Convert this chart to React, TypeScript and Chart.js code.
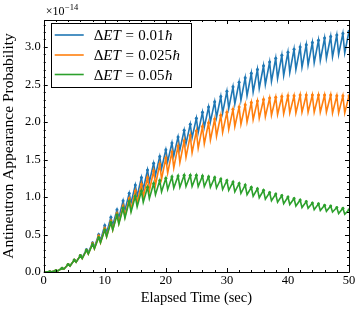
import React, { useEffect, useRef } from "react";
import { Chart, registerables } from "chart.js";
Chart.register(...registerables);

// Elapsed time (sec) of each oscillation peak and of each following trough
const peakTimes = [0, 1, 2, 3, 4, 5, 6, 7, 8, 9, 10, 11, 12, 13, 14, 15, 16, 17, 18, 19, 20, 21, 22, 23, 24, 25, 26, 27, 28, 29, 30, 31, 32, 33, 34, 35, 36, 37, 38, 39, 40, 41, 42, 43, 44, 45, 46, 47, 48, 49, 50];
const troughTimes = [0.3, 1.3, 2.3, 3.3, 4.3, 5.3, 6.3, 7.3, 8.3, 9.3, 10.3, 11.3, 12.3, 13.3, 14.3, 15.3, 16.3, 17.3, 18.3, 19.3, 20.3, 21.3, 22.3, 23.3, 24.3, 25.3, 26.3, 27.3, 28.3, 29.3, 30.3, 31.3, 32.3, 33.3, 34.3, 35.3, 36.3, 37.3, 38.3, 39.3, 40.3, 41.3, 42.3, 43.3, 44.3, 45.3, 46.3, 47.3, 48.3, 49.3];

// Probability values in units of 1e-14
const bluePeaks = [0, 0.005, 0.02, 0.05, 0.1, 0.16, 0.22, 0.3, 0.39, 0.5, 0.62, 0.73, 0.83, 0.95, 1.05, 1.16, 1.26, 1.36, 1.45, 1.54, 1.63, 1.72, 1.8, 1.89, 1.97, 2.05, 2.13, 2.2, 2.27, 2.34, 2.41, 2.47, 2.53, 2.59, 2.65, 2.7, 2.75, 2.8, 2.85, 2.89, 2.93, 2.97, 3.0, 3.03, 3.06, 3.09, 3.12, 3.14, 3.16, 3.18, 3.21];
const blueTroughs = [0, 0.003, 0.015, 0.04, 0.08, 0.13, 0.19, 0.26, 0.33, 0.42, 0.52, 0.62, 0.72, 0.82, 0.92, 1.01, 1.1, 1.2, 1.29, 1.38, 1.47, 1.55, 1.63, 1.71, 1.79, 1.86, 1.93, 2.0, 2.06, 2.12, 2.18, 2.24, 2.29, 2.35, 2.4, 2.45, 2.5, 2.54, 2.58, 2.62, 2.66, 2.7, 2.73, 2.76, 2.79, 2.82, 2.85, 2.87, 2.9, 2.92];
const orangePeaks = [0, 0.005, 0.02, 0.05, 0.1, 0.16, 0.22, 0.29, 0.38, 0.48, 0.58, 0.68, 0.78, 0.88, 0.98, 1.08, 1.17, 1.26, 1.35, 1.44, 1.52, 1.6, 1.68, 1.75, 1.82, 1.88, 1.94, 1.99, 2.04, 2.09, 2.13, 2.17, 2.2, 2.23, 2.26, 2.28, 2.3, 2.32, 2.33, 2.34, 2.35, 2.35, 2.36, 2.36, 2.36, 2.36, 2.36, 2.36, 2.35, 2.35, 2.35];
const orangeTroughs = [0, 0.003, 0.015, 0.04, 0.08, 0.13, 0.18, 0.24, 0.31, 0.39, 0.47, 0.56, 0.65, 0.74, 0.83, 0.92, 1.0, 1.08, 1.16, 1.24, 1.32, 1.39, 1.46, 1.53, 1.59, 1.65, 1.71, 1.76, 1.81, 1.86, 1.9, 1.94, 1.97, 2.0, 2.03, 2.05, 2.07, 2.09, 2.1, 2.11, 2.12, 2.12, 2.13, 2.13, 2.13, 2.13, 2.13, 2.12, 2.12, 2.12];
const greenPeaks = [0, 0.005, 0.02, 0.05, 0.1, 0.16, 0.22, 0.29, 0.37, 0.46, 0.56, 0.66, 0.76, 0.85, 0.94, 1.01, 1.08, 1.13, 1.18, 1.22, 1.25, 1.27, 1.28, 1.29, 1.29, 1.29, 1.28, 1.27, 1.26, 1.24, 1.22, 1.2, 1.18, 1.16, 1.13, 1.11, 1.09, 1.06, 1.04, 1.02, 1.0, 0.98, 0.96, 0.94, 0.92, 0.91, 0.89, 0.88, 0.86, 0.85, 0.83];
const greenTroughs = [0, 0.003, 0.015, 0.04, 0.08, 0.13, 0.18, 0.24, 0.31, 0.39, 0.47, 0.56, 0.64, 0.72, 0.8, 0.87, 0.93, 0.98, 1.03, 1.07, 1.1, 1.12, 1.13, 1.14, 1.14, 1.14, 1.14, 1.13, 1.12, 1.1, 1.09, 1.07, 1.05, 1.03, 1.01, 0.99, 0.97, 0.95, 0.93, 0.91, 0.9, 0.88, 0.86, 0.85, 0.83, 0.82, 0.81, 0.8, 0.78, 0.77];

const seriesLabels = ["0.01", "0.025", "0.05"];
const seriesColors = ["#1f77b4", "#ff7f0e", "#2ca02c"];
const xTitle = "Elapsed Time (sec)";
const yTitle = "Antineutron Appearance Probability";
const yTicks = [0, 0.5, 1, 1.5, 2, 2.5, 3];
const xTicks = [0, 10, 20, 30, 40, 50];

const SERIF = "'Liberation Serif', 'DejaVu Serif', serif";

function buildSeries(peaks: number[], troughs: number[]) {
  const pts: { x: number; y: number; peak: boolean }[] = [];
  for (let i = 0; i < peaks.length; i++) {
    pts.push({ x: peakTimes[i], y: peaks[i], peak: true });
    if (i < troughs.length) pts.push({ x: troughTimes[i], y: troughs[i], peak: false });
  }
  return pts;
}

const framePlugin = {
  id: "frame",
  afterDraw(chart: any) {
    const { ctx, chartArea: a, scales } = chart;
    const xs = scales.x;
    const ys = scales.y;
    ctx.save();
    ctx.strokeStyle = "#000";
    ctx.lineWidth = 1;
    ctx.beginPath();
    ctx.rect(Math.round(a.left) + 0.5, Math.round(a.top) + 0.5, Math.round(a.right - a.left), Math.round(a.bottom - a.top));
    ctx.stroke();
    ctx.beginPath();
    for (let v = 0; v <= 50.001; v += 2) {
      const len = Math.abs(v % 10) < 1e-6 ? 4 : 2;
      const px = Math.round(xs.getPixelForValue(v)) + 0.5;
      ctx.moveTo(px, a.bottom);
      ctx.lineTo(px, a.bottom - len);
      ctx.moveTo(px, a.top);
      ctx.lineTo(px, a.top + len);
    }
    for (let k = 0; k <= 33; k++) {
      const v = k / 10;
      const len = k % 5 === 0 ? 4 : 2;
      const py = Math.round(ys.getPixelForValue(v)) + 0.5;
      ctx.moveTo(a.left, py);
      ctx.lineTo(a.left + len, py);
      ctx.moveTo(a.right, py);
      ctx.lineTo(a.right - len, py);
    }
    ctx.stroke();

    // exponent label
    ctx.fillStyle = "#000";
    ctx.textBaseline = "alphabetic";
    ctx.textAlign = "left";
    ctx.font = `12px ${SERIF}`;
    const ex = a.left + 2;
    const ey = a.top - 5;
    ctx.fillText("×10", ex, ey);
    const w = ctx.measureText("×10").width;
    ctx.font = `8.5px ${SERIF}`;
    ctx.fillText("−14", ex + w + 0.5, ey - 5);

    // legend
    const bx = a.left + 7, by = a.top + 3, bw = 140, bh = 64;
    ctx.fillStyle = "rgba(255,255,255,0.85)";
    ctx.fillRect(bx, by, bw, bh);
    ctx.strokeStyle = "#000";
    ctx.lineWidth = 1;
    ctx.strokeRect(Math.round(bx) + 0.5, Math.round(by) + 0.5, bw, bh);
    const rows = [by + 12, by + 32, by + 51.5];
    for (let i = 0; i < 3; i++) {
      const ry = rows[i];
      ctx.strokeStyle = seriesColors[i];
      ctx.lineWidth = 1.6;
      ctx.beginPath();
      ctx.moveTo(bx + 4, ry);
      ctx.lineTo(bx + 33, ry);
      ctx.stroke();
      let tx = bx + 43;
      const base = ry + 5;
      ctx.fillStyle = "#000";
      const parts: [string, boolean, number][] = [
        ["Δ", false, 0], ["ET", true, 4.5], ["=", false, 4.5], [seriesLabels[i], false, 0.5], ["ħ", true, 0],
      ];
      for (const [s, it, gap] of parts) {
        ctx.font = `${it ? "italic " : ""}15px ${SERIF}`;
        ctx.fillText(s, tx, base);
        tx += ctx.measureText(s).width + gap;
      }
    }
    ctx.restore();
  },
};

export default function App() {
  const ref = useRef<HTMLCanvasElement | null>(null);
  useEffect(() => {
    document.body.style.margin = "0";
    const peaksList = [bluePeaks, orangePeaks, greenPeaks];
    const troughList = [blueTroughs, orangeTroughs, greenTroughs];
    const chart = new Chart(ref.current as HTMLCanvasElement, {
      type: "line",
      data: {
        datasets: [0, 1, 2].map((i) => ({
          label: `ΔET = ${seriesLabels[i]}ħ`,
          data: buildSeries(peaksList[i], troughList[i]) as any,
          borderColor: seriesColors[i],
          backgroundColor: seriesColors[i],
          borderWidth: 1.6,
          pointRadius: (c: any) => (c.raw && c.raw.peak && c.raw.x > 0 ? 1.5 : 0),
          pointBorderWidth: 0,
          pointHoverRadius: 0,
          tension: 0,
          order: 2 - i,
        })),
      },
      options: {
        animation: false,
        responsive: false,
        events: [],
        layout: { padding: { left: 0, right: 14, top: 20, bottom: 6.6 } },
        plugins: { legend: { display: false }, tooltip: { enabled: false } },
        scales: {
          x: {
            type: "linear",
            min: 0,
            max: 50,
            ticks: { stepSize: 10, color: "#000", font: { family: SERIF, size: 12.5 }, padding: 1, maxRotation: 0 },
            afterBuildTicks: (s: any) => { s.ticks = xTicks.map((v) => ({ value: v })); },
            grid: { display: false, drawTicks: false },
            border: { display: false },
            title: { display: true, text: xTitle, color: "#000", font: { family: SERIF, size: 14.5 }, padding: { top: 0, bottom: 0 } },
          },
          y: {
            type: "linear",
            min: 0,
            max: 3.36,
            ticks: { color: "#000", font: { family: SERIF, size: 12.5 }, padding: 3, callback: (v: any) => Number(v).toFixed(1) },
            afterBuildTicks: (s: any) => { s.ticks = yTicks.map((v) => ({ value: v })); },
            grid: { display: false, drawTicks: false },
            border: { display: false },
            title: { display: true, text: yTitle, color: "#000", font: { family: SERIF, size: 15.5 }, padding: { top: 0, bottom: 3.5 } },
          },
        },
      },
      plugins: [framePlugin],
    });
    return () => chart.destroy();
  }, []);
  return (
    <div style={{ position: "absolute", left: 0, top: 0, width: 363, height: 313 }}>
      <canvas ref={ref} width={363} height={313} />
    </div>
  );
}
